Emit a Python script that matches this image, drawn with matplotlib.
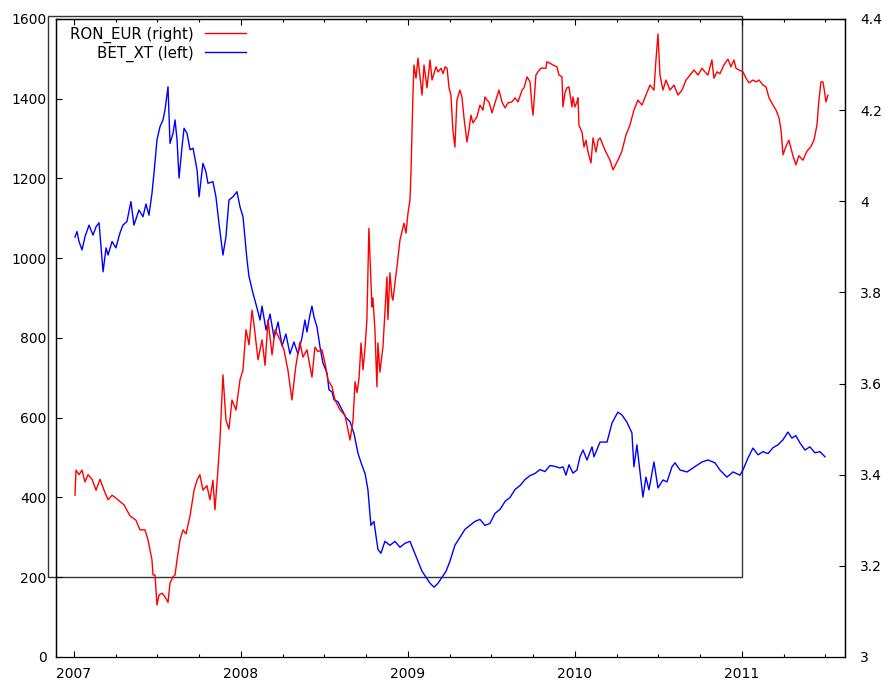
"""
BET_XT index against the RON/EUR rate, 2007 - mid 2011
"""
import matplotlib
matplotlib.use("Agg")
import matplotlib.pyplot as plt
from matplotlib.patches import Rectangle
from matplotlib.ticker import MultipleLocator
import numpy as np

# BET_XT index (left axis), dates as decimal years
bet_dates = [
    2007.006, 2007.018, 2007.030, 2007.048, 2007.066, 2007.090, 2007.114, 2007.132, 2007.150, 2007.174,
    2007.192, 2007.204, 2007.228, 2007.251, 2007.275, 2007.293, 2007.317, 2007.341, 2007.359, 2007.389,
    2007.413, 2007.431, 2007.449, 2007.467, 2007.479, 2007.497, 2007.515, 2007.533, 2007.545, 2007.563,
    2007.575, 2007.593, 2007.605, 2007.617, 2007.629, 2007.647, 2007.659, 2007.677, 2007.695, 2007.713,
    2007.737, 2007.749, 2007.772, 2007.790, 2007.802, 2007.832, 2007.850, 2007.868, 2007.892, 2007.910,
    2007.928, 2007.952, 2007.976, 2007.994, 2008.012, 2008.036, 2008.048, 2008.072, 2008.096, 2008.114,
    2008.126, 2008.150, 2008.174, 2008.198, 2008.222, 2008.246, 2008.269, 2008.293, 2008.317, 2008.341,
    2008.365, 2008.383, 2008.395, 2008.413, 2008.425, 2008.437, 2008.455, 2008.473, 2008.491, 2008.515,
    2008.527, 2008.545, 2008.557, 2008.581, 2008.605, 2008.629, 2008.653, 2008.677, 2008.701, 2008.725,
    2008.743, 2008.760, 2008.778, 2008.796, 2008.820, 2008.838, 2008.862, 2008.892, 2008.922, 2008.952,
    2008.982, 2009.012, 2009.036, 2009.060, 2009.084, 2009.108, 2009.132, 2009.156, 2009.180, 2009.204,
    2009.228, 2009.251, 2009.281, 2009.311, 2009.341, 2009.371, 2009.401, 2009.431, 2009.461, 2009.491,
    2009.521, 2009.551, 2009.581, 2009.611, 2009.641, 2009.671, 2009.701, 2009.731, 2009.760, 2009.790,
    2009.820, 2009.850, 2009.880, 2009.910, 2009.928, 2009.946, 2009.964, 2009.988, 2010.012, 2010.030,
    2010.048, 2010.072, 2010.102, 2010.114, 2010.150, 2010.192, 2010.222, 2010.257, 2010.281, 2010.311,
    2010.341, 2010.353, 2010.371, 2010.383, 2010.407, 2010.425, 2010.443, 2010.473, 2010.497, 2010.527,
    2010.551, 2010.581, 2010.599, 2010.629, 2010.671, 2010.707, 2010.760, 2010.796, 2010.838, 2010.868,
    2010.910, 2010.946, 2010.988, 2011.006, 2011.036, 2011.066, 2011.096, 2011.126, 2011.156, 2011.186,
    2011.216, 2011.246, 2011.275, 2011.299, 2011.323, 2011.347, 2011.377, 2011.407, 2011.437, 2011.467,
    2011.497,
]
bet_values = [
    1053, 1067, 1042, 1021, 1054, 1083, 1058, 1079, 1089, 966,
    1026, 1008, 1042, 1026, 1063, 1083, 1092, 1142, 1083, 1121,
    1104, 1136, 1108, 1163, 1213, 1297, 1330, 1347, 1372, 1430,
    1288, 1313, 1347, 1297, 1201, 1280, 1326, 1313, 1272, 1276,
    1221, 1154, 1238, 1217, 1188, 1192, 1154, 1088, 1008, 1054,
    1146, 1154, 1167, 1129, 1104, 996, 954, 912, 875, 845,
    880, 820, 860, 800, 840, 780, 810, 760, 790, 760,
    800, 845, 815, 858, 880, 853, 828, 778, 737, 712,
    670, 665, 645, 640, 620, 600, 590, 560, 510, 480,
    460, 420, 330, 340, 270, 260, 290, 280, 290, 275,
    285, 290, 265, 240, 215, 200, 185, 175, 185, 200,
    215, 240, 280, 300, 320, 330, 340, 345, 330, 335,
    360, 370, 390, 400, 420, 430, 445, 455, 460, 470,
    465, 480, 478, 474, 477, 456, 482, 461, 469, 502,
    519, 494, 527, 502, 539, 539, 587, 614, 607, 589,
    562, 477, 532, 487, 401, 451, 419, 489, 424, 444,
    439, 477, 487, 469, 464, 474, 489, 494, 487, 469,
    451, 464, 456, 469, 499, 524, 507, 515, 510, 525,
    532, 545, 564, 549, 555, 537, 519, 527, 512, 515,
    502,
]

# RON/EUR exchange rate (right axis)
ron_dates = [
    2007.006, 2007.012, 2007.030, 2007.048, 2007.066, 2007.084, 2007.108, 2007.132, 2007.156, 2007.180,
    2007.204, 2007.228, 2007.263, 2007.299, 2007.335, 2007.371, 2007.395, 2007.425, 2007.443, 2007.467,
    2007.473, 2007.485, 2007.497, 2007.509, 2007.527, 2007.545, 2007.563, 2007.575, 2007.593, 2007.605,
    2007.617, 2007.635, 2007.653, 2007.671, 2007.695, 2007.719, 2007.737, 2007.754, 2007.772, 2007.796,
    2007.814, 2007.832, 2007.844, 2007.862, 2007.874, 2007.892, 2007.910, 2007.928, 2007.946, 2007.970,
    2007.994, 2008.012, 2008.030, 2008.048, 2008.066, 2008.078, 2008.102, 2008.126, 2008.144, 2008.162,
    2008.186, 2008.204, 2008.234, 2008.257, 2008.281, 2008.305, 2008.329, 2008.353, 2008.371, 2008.395,
    2008.425, 2008.443, 2008.461, 2008.485, 2008.503, 2008.521, 2008.545, 2008.563, 2008.593, 2008.623,
    2008.653, 2008.671, 2008.683, 2008.695, 2008.707, 2008.719, 2008.731, 2008.743, 2008.754, 2008.766,
    2008.784, 2008.790, 2008.802, 2008.814, 2008.820, 2008.832, 2008.850, 2008.856, 2008.874, 2008.880,
    2008.892, 2008.904, 2008.910, 2008.922, 2008.934, 2008.952, 2008.964, 2008.976, 2008.988, 2009.000,
    2009.012, 2009.018, 2009.024, 2009.030, 2009.036, 2009.048, 2009.060, 2009.084, 2009.096, 2009.114,
    2009.132, 2009.144, 2009.168, 2009.180, 2009.198, 2009.210, 2009.222, 2009.234, 2009.246, 2009.257,
    2009.269, 2009.281, 2009.293, 2009.311, 2009.323, 2009.335, 2009.353, 2009.365, 2009.377, 2009.389,
    2009.413, 2009.431, 2009.449, 2009.461, 2009.473, 2009.485, 2009.503, 2009.521, 2009.545, 2009.563,
    2009.581, 2009.599, 2009.623, 2009.641, 2009.659, 2009.683, 2009.695, 2009.713, 2009.731, 2009.743,
    2009.749, 2009.766, 2009.778, 2009.796, 2009.808, 2009.826, 2009.832, 2009.850, 2009.868, 2009.892,
    2009.904, 2009.922, 2009.928, 2009.940, 2009.952, 2009.964, 2009.982, 2009.988, 2010.000, 2010.012,
    2010.018, 2010.024, 2010.042, 2010.054, 2010.066, 2010.078, 2010.096, 2010.108, 2010.126, 2010.138,
    2010.150, 2010.180, 2010.210, 2010.228, 2010.257, 2010.281, 2010.305, 2010.329, 2010.353, 2010.377,
    2010.401, 2010.425, 2010.449, 2010.473, 2010.485, 2010.497, 2010.509, 2010.527, 2010.545, 2010.569,
    2010.593, 2010.617, 2010.641, 2010.665, 2010.689, 2010.713, 2010.737, 2010.760, 2010.778, 2010.796,
    2010.820, 2010.832, 2010.850, 2010.868, 2010.892, 2010.916, 2010.934, 2010.952, 2010.964, 2010.982,
    2011.006, 2011.024, 2011.042, 2011.066, 2011.084, 2011.102, 2011.126, 2011.144, 2011.162, 2011.186,
    2011.204, 2011.222, 2011.234, 2011.246, 2011.263, 2011.281, 2011.305, 2011.323, 2011.341, 2011.365,
    2011.389, 2011.413, 2011.431, 2011.449, 2011.461, 2011.473, 2011.485, 2011.491, 2011.503, 2011.515,
]
ron_values = [
    3.355, 3.410, 3.400, 3.410, 3.384, 3.400, 3.390, 3.366, 3.390, 3.366,
    3.345, 3.355, 3.345, 3.334, 3.310, 3.300, 3.279, 3.279, 3.257, 3.213,
    3.180, 3.180, 3.114, 3.136, 3.140, 3.132, 3.120, 3.162, 3.176, 3.180,
    3.213, 3.257, 3.279, 3.270, 3.310, 3.366, 3.388, 3.400, 3.366, 3.376,
    3.345, 3.388, 3.323, 3.410, 3.476, 3.619, 3.520, 3.500, 3.564, 3.542,
    3.608, 3.630, 3.718, 3.685, 3.761, 3.729, 3.652, 3.696, 3.640, 3.740,
    3.663, 3.718, 3.696, 3.674, 3.630, 3.564, 3.640, 3.691, 3.658, 3.674,
    3.614, 3.680, 3.670, 3.674, 3.645, 3.608, 3.593, 3.564, 3.542, 3.530,
    3.476, 3.520, 3.604, 3.580, 3.612, 3.689, 3.630, 3.680, 3.740, 3.941,
    3.768, 3.788, 3.718, 3.593, 3.689, 3.625, 3.680, 3.718, 3.834, 3.740,
    3.843, 3.790, 3.783, 3.821, 3.856, 3.915, 3.933, 3.952, 3.930, 3.974,
    4.003, 4.062, 4.150, 4.238, 4.299, 4.270, 4.314, 4.233, 4.299, 4.249,
    4.310, 4.266, 4.295, 4.284, 4.292, 4.280, 4.295, 4.292, 4.249, 4.233,
    4.156, 4.119, 4.222, 4.244, 4.229, 4.185, 4.130, 4.156, 4.189, 4.172,
    4.185, 4.211, 4.200, 4.229, 4.222, 4.218, 4.194, 4.216, 4.244, 4.218,
    4.205, 4.216, 4.218, 4.227, 4.218, 4.244, 4.249, 4.273, 4.262, 4.207,
    4.189, 4.277, 4.284, 4.292, 4.292, 4.292, 4.306, 4.303, 4.299, 4.295,
    4.277, 4.273, 4.207, 4.238, 4.249, 4.251, 4.207, 4.229, 4.207, 4.218,
    4.227, 4.167, 4.152, 4.119, 4.134, 4.108, 4.084, 4.139, 4.108, 4.134,
    4.139, 4.112, 4.090, 4.069, 4.090, 4.110, 4.145, 4.167, 4.200, 4.222,
    4.211, 4.233, 4.255, 4.244, 4.310, 4.367, 4.277, 4.244, 4.266, 4.244,
    4.255, 4.233, 4.244, 4.266, 4.277, 4.288, 4.277, 4.292, 4.284, 4.277,
    4.310, 4.270, 4.284, 4.280, 4.299, 4.312, 4.295, 4.310, 4.292, 4.288,
    4.284, 4.270, 4.260, 4.266, 4.262, 4.266, 4.255, 4.251, 4.227, 4.211,
    4.200, 4.183, 4.156, 4.102, 4.120, 4.134, 4.100, 4.080, 4.100, 4.090,
    4.110, 4.120, 4.134, 4.167, 4.222, 4.262, 4.262, 4.249, 4.218, 4.233,
]

x_years = [2007, 2008, 2009, 2010, 2011]
left_ticks = list(range(0, 1601, 200))
right_ticks = [3, 3.2, 3.4, 3.6, 3.8, 4, 4.2, 4.4]
right_labels = ["3", "3.2", "3.4", "3.6", "3.8", "4", "4.2", "4.4"]

plt.rcParams["font.family"] = ["DejaVu Sans"]
plt.rcParams["font.size"] = 10

fig = plt.figure(figsize=(8.85, 6.83), dpi=100)
ax = fig.add_axes([0.0638, 0.0381, 0.8910, 0.9341])
ax2 = ax.twinx()

ax.set_xlim(2006.895, 2011.617)
ax.set_ylim(0, 1600)
ax2.set_ylim(3, 4.4)

l_bet, = ax.plot(bet_dates, bet_values, color="#0000ff", lw=1.0, label="BET_XT (left)")
l_ron, = ax2.plot(ron_dates, ron_values, color="#ff0000", lw=1.0, label="RON_EUR (right)")

ax.set_xticks(x_years)
ax.set_xticklabels([str(y) for y in x_years])
ax.xaxis.set_minor_locator(MultipleLocator(0.25))
ax.set_yticks(left_ticks)
ax2.set_yticks(right_ticks)
ax2.set_yticklabels(right_labels)

ax.tick_params(axis="x", which="major", direction="in", length=4.5, width=0.8,
               top=True, pad=7, colors="black")
ax.tick_params(axis="x", which="minor", direction="in", length=2.5, width=0.8, top=True)
ax.tick_params(axis="y", direction="in", length=4.5, width=0.8, pad=7, right=False)
ax2.tick_params(axis="y", direction="in", length=4.5, width=0.8, pad=11)

for a in (ax, ax2):
    for s in a.spines.values():
        s.set_linewidth(0.9)
        s.set_color("black")
# the bottom border sits on the zero line and shows dotted
ax.spines["bottom"].set_linestyle((0, (2, 1)))
ax2.spines["bottom"].set_visible(False)

# leftover frame of the 2007-2011 window
frame = Rectangle((2006.847, 200), 2011 - 2006.847, 1406.4, fill=False,
                  edgecolor="#333333", lw=1.0, clip_on=False, zorder=1)
ax.add_patch(frame)

ax.legend([l_ron, l_bet], ["RON_EUR (right)", "BET_XT (left)"], loc="upper left",
          markerfirst=False, frameon=False, fontsize=10.8, handlelength=2.7,
          handletextpad=0.75, labelspacing=0.2, borderaxespad=0.1,
          bbox_to_anchor=(0.008, 1.0))

fig.savefig("out.png", dpi=100)
